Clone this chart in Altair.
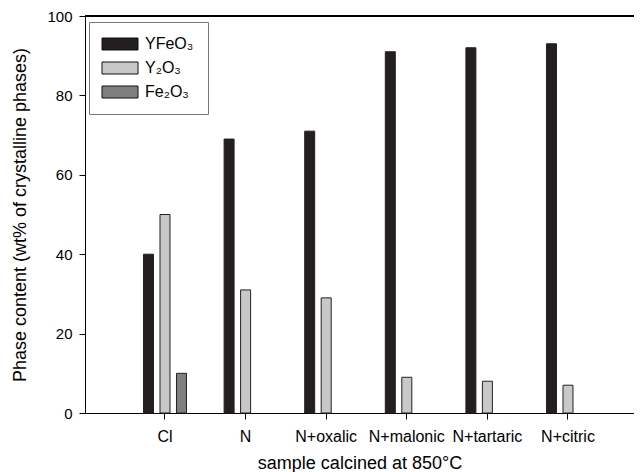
import altair as alt
import pandas as pd

samples = ["Cl", "N", "N+oxalic", "N+malonic", "N+tartaric", "N+citric"]
phases = ["YFeO₃", "Y₂O₃", "Fe₂O₃"]
yfeo3 = [40, 69, 71, 91, 92, 93]
y2o3 = [50, 31, 29, 9, 8, 7]
fe2o3 = [10, None, None, None, None, None]
colors = ["#231f20", "#c8c8c8", "#7f7f80"]

rows = []
for s, a, b, c in zip(samples, yfeo3, y2o3, fe2o3):
    for p, v in zip(phases, [a, b, c]):
        if v is not None:
            rows.append({"sample": s, "phase": p, "value": v})
df = pd.DataFrame(rows)

FONT = "Liberation Sans"
W, H = 549, 397

bars = alt.Chart(df).mark_bar(stroke="#222222", strokeWidth=1).encode(
    x=alt.X("sample:N", sort=samples,
            scale=alt.Scale(paddingInner=0, paddingOuter=0.4057, align=0.607),
            axis=alt.Axis(title="sample calcined at 850°C", labelAngle=0, tickSize=6,
                          labelPadding=9, titlePadding=10, labelFontSize=16)),
    xOffset=alt.XOffset("phase:N", sort=phases,
                        scale=alt.Scale(paddingInner=0.394, paddingOuter=0, range=[18.8, 61.8])),
    y=alt.Y("value:Q", scale=alt.Scale(domain=[0, 100], nice=False),
            axis=alt.Axis(title="Phase content (wt% of crystalline phases)", values=[0, 20, 40, 60, 80, 100],
                          tickSize=6, labelPadding=7, titlePadding=17, grid=False, labelFontSize=15)),
    color=alt.Color("phase:N", sort=phases,
                    scale=alt.Scale(domain=phases, range=colors),
                    legend=alt.Legend(title=None, orient="none", legendX=4, legendY=6,
                                      padding=14, strokeColor="#777777", fillColor="white",
                                      symbolType="M-3,-1H3V1H-3Z", symbolSize=144, symbolOffset=9,
                                      symbolStrokeColor="#111111", symbolStrokeWidth=1,
                                      labelFontSize=16, labelOffset=17, rowPadding=8,
                                      labelFont=FONT, labelColor="black")),
)

top = alt.Chart(df).mark_rule(color="black", strokeWidth=1).encode(
    x=alt.value(0), x2=alt.value(W), y=alt.value(0)
)

chart = alt.layer(bars, top).properties(
    width=W, height=H,
    autosize=alt.AutoSizeParams(type="none"),
    padding={"left": 77, "top": 8, "right": 0, "bottom": 59},
).configure_view(stroke=None).configure_axis(
    domainColor="black", tickColor="black", labelColor="black", titleColor="black",
    labelFont=FONT, titleFont=FONT, titleFontSize=18,
    titleFontWeight="normal", domainWidth=1, tickWidth=1,
).configure_legend(labelFont=FONT)

chart.save("out.html", embed_options={"renderer": "svg", "actions": False})
